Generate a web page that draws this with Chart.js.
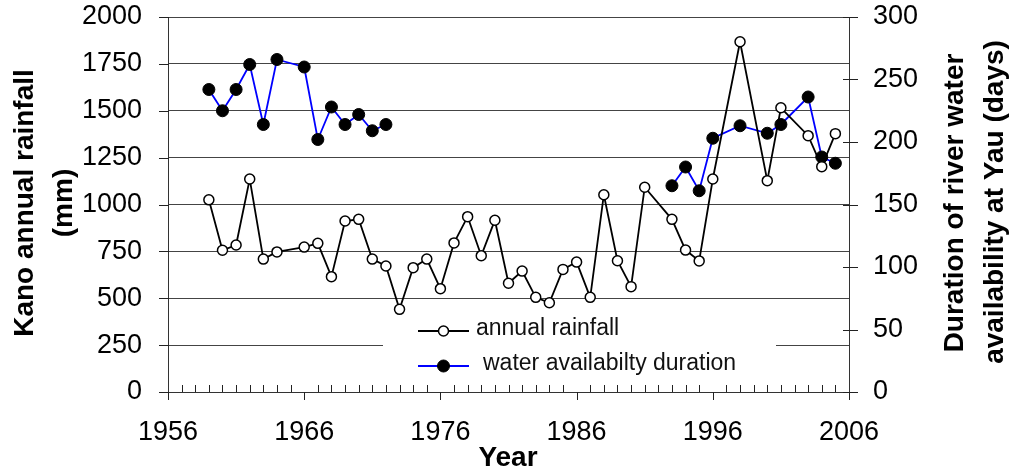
<!DOCTYPE html>
<html>
<head>
<meta charset="utf-8">
<script src="https://cdn.jsdelivr.net/npm/chart.js@4.4.1/dist/chart.umd.min.js"></script>
<style>
    body { margin: 0; background: #fff; }
    #wrap { width: 1011px; height: 467px; position: relative; }
</style>
</head>
<body>
<div id="wrap"><canvas id="rainChart"></canvas></div>
<script>
// Kano annual rainfall vs. duration of river water availability at Yau
const years = [1959, 1960, 1961, 1962, 1963, 1964, 1965, 1966, 1967, 1968, 1969, 1970,
    1971, 1972, 1973, 1974, 1975, 1976, 1977, 1978, 1979, 1980, 1981, 1982, 1983, 1984,
    1985, 1986, 1987, 1988, 1989, 1990, 1991, 1992, 1993, 1994, 1995, 1996, 1997, 1998,
    1999, 2000, 2001, 2002, 2003, 2004, 2005];

// annual rainfall (mm), left axis
const rainfall = [1025, 756, 784, 1136, 709, 747, null, 773, 793, 615, 912, 921,
    709, 672, 441, 663, 709, 551, 795, 935, 727, 916, 580, 645, 505, 476,
    654, 693, 505, 1052, 700, 562, 1092, null, 921, 757, 699, 1136, null, 1868,
    null, 1127, 1516, null, 1367, 1202, 1378];

// water availability duration (days), right axis
const waterDays = [242, 225, 242, 262, 214, 266, null, 260, 202, 228, 214, 222,
    209, 214, null, null, null, null, null, null, null, null, null, null, null, null,
    null, null, null, null, null, null, null, null, 165, 180, 161, 203, null, 213,
    null, 207, 214, null, 236, 188, 183];

const rainTicks = [0, 250, 500, 750, 1000, 1250, 1500, 1750, 2000];
const dayTicks = [0, 50, 100, 150, 200, 250, 300];
const yearTicks = [1956, 1966, 1976, 1986, 1996, 2006];

const FONT = "'Liberation Sans', Arial, sans-serif";

function toPoints(values) {
    const pts = [];
    years.forEach((yr, i) => {
        if (values[i] !== null) pts.push({ x: yr, y: values[i] });
    });
    return pts;
}

// fixed plot box, no extra room for label overflow
function fixBox(size, key) {
    return (scale) => {
        scale[key] = size;
        scale.paddingTop = 0;
        scale.paddingBottom = 0;
        scale.paddingLeft = 0;
        scale.paddingRight = 0;
    };
}

// axis titles, year ticks, crossing y ticks and the in-plot legend
const decorPlugin = {
    id: 'decor',
    beforeDatasetsDraw(chart) {
        const ctx = chart.ctx;
        const ca = chart.chartArea;
        const xs = chart.scales.x;
        const yl = chart.scales.y;
        const yr = chart.scales.y1;
        ctx.save();
        ctx.strokeStyle = '#222';
        ctx.lineWidth = 1;
        ctx.beginPath();
        // x axis: minor ticks up, decade ticks down
        for (let yrv = 1956; yrv <= 2006; yrv++) {
            const px = Math.round(xs.getPixelForValue(yrv)) + 0.5;
            if ((yrv - 1956) % 10 === 0) {
                ctx.moveTo(px, ca.bottom);
                ctx.lineTo(px, ca.bottom + 8);
            } else {
                ctx.moveTo(px, ca.bottom - 7);
                ctx.lineTo(px, ca.bottom);
            }
        }
        // y ticks crossing both axes
        rainTicks.forEach(v => {
            const py = Math.round(yl.getPixelForValue(v)) + 0.5;
            ctx.moveTo(ca.left - 9, py);
            ctx.lineTo(ca.left + 1, py);
        });
        dayTicks.forEach(v => {
            const py = Math.round(yr.getPixelForValue(v)) + 0.5;
            ctx.moveTo(ca.right - 6, py);
            ctx.lineTo(ca.right + 9, py);
        });
        ctx.stroke();

        // legend background hides the gridline under it
        ctx.fillStyle = '#fff';
        ctx.fillRect(383, 318, 393, 63);
        ctx.restore();
    },
    afterDatasetsDraw(chart) {
        const ctx = chart.ctx;
        const ds = chart.data.datasets;
        ctx.save();
        const rows = [{ y: 331, tx: 476, ty: 329 }, { y: 366, tx: 483, ty: 364 }];
        rows.forEach((r, i) => {
            const d = ds[i];
            ctx.strokeStyle = d.borderColor;
            ctx.lineWidth = d.borderWidth;
            ctx.beginPath();
            ctx.moveTo(418, r.y);
            ctx.lineTo(469, r.y);
            ctx.stroke();
            ctx.beginPath();
            ctx.arc(443.5, r.y, d.pointRadius, 0, Math.PI * 2);
            ctx.fillStyle = d.pointBackgroundColor;
            ctx.fill();
            ctx.strokeStyle = d.pointBorderColor;
            ctx.lineWidth = d.pointBorderWidth;
            ctx.stroke();
            ctx.fillStyle = '#111';
            ctx.font = '23px ' + FONT;
            ctx.textAlign = 'left';
            ctx.textBaseline = 'middle';
            ctx.fillText(d.label, r.tx, r.ty);
        });

        // axis titles
        ctx.fillStyle = '#000';
        ctx.font = 'bold 28px ' + FONT;
        ctx.textAlign = 'center';
        ctx.textBaseline = 'alphabetic';
        const drawRot = (text, x, y) => {
            ctx.save();
            ctx.translate(x, y);
            ctx.rotate(-Math.PI / 2);
            ctx.fillText(text, 0, 0);
            ctx.restore();
        };
        drawRot('Kano annual rainfall', 33, 203);
        drawRot('(mm)', 72, 203);
        drawRot('Duration of river water', 963, 203);
        drawRot('availability at Yau (days)', 1003, 202);
        ctx.fillText('Year', 508, 466);
        ctx.restore();
    }
};

const ctx = document.getElementById('rainChart');
new Chart(ctx, {
    type: 'line',
    data: {
        datasets: [{
            label: 'annual rainfall',
            data: toPoints(rainfall),
            yAxisID: 'y',
            borderColor: '#000',
            borderWidth: 1.8,
            pointRadius: 5,
            pointBackgroundColor: '#fff',
            pointBorderColor: '#000',
            pointBorderWidth: 1.5,
            tension: 0,
            spanGaps: true
        }, {
            label: 'water availabilty duration',
            data: toPoints(waterDays),
            yAxisID: 'y1',
            borderColor: '#0000ff',
            borderWidth: 1.8,
            pointRadius: 6,
            pointBackgroundColor: '#000',
            pointBorderColor: '#000',
            pointBorderWidth: 1,
            tension: 0,
            spanGaps: 2 // joins one-year gaps, breaks 1972-1993
        }]
    },
    options: {
        responsive: true,
        maintainAspectRatio: false,
        animation: false,
        layout: { padding: { top: 17, left: 0, right: 0, bottom: 0 } },
        plugins: {
            legend: { display: false },
            tooltip: { enabled: false }
        },
        scales: {
            x: {
                type: 'linear',
                min: 1956,
                max: 2006,
                afterBuildTicks: (scale) => { scale.ticks = yearTicks.map(v => ({ value: v })); },
                afterFit: fixBox(75, 'height'),
                ticks: {
                    callback: (v) => String(v),
                    color: '#000',
                    font: { family: FONT, size: 27 },
                    padding: 24,
                    maxRotation: 0
                },
                grid: { drawOnChartArea: false, drawTicks: false },
                border: { color: '#333', width: 1 }
            },
            y: {
                position: 'left',
                min: 0,
                max: 2000,
                afterBuildTicks: (scale) => { scale.ticks = rainTicks.map(v => ({ value: v })); },
                afterFit: fixBox(168, 'width'),
                ticks: {
                    callback: (v) => String(v),
                    color: '#000',
                    font: { family: FONT, size: 27 },
                    padding: 26
                },
                grid: { color: '#444', lineWidth: 1, drawTicks: false },
                border: { color: '#333', width: 1 }
            },
            y1: {
                position: 'right',
                min: 0,
                max: 300,
                afterBuildTicks: (scale) => { scale.ticks = dayTicks.map(v => ({ value: v })); },
                afterFit: fixBox(162, 'width'),
                ticks: {
                    callback: (v) => String(v),
                    color: '#000',
                    font: { family: FONT, size: 27 },
                    padding: 24
                },
                grid: { drawOnChartArea: false, drawTicks: false },
                border: { color: '#333', width: 1 }
            }
        }
    },
    plugins: [decorPlugin]
});
</script>
</body>
</html>
